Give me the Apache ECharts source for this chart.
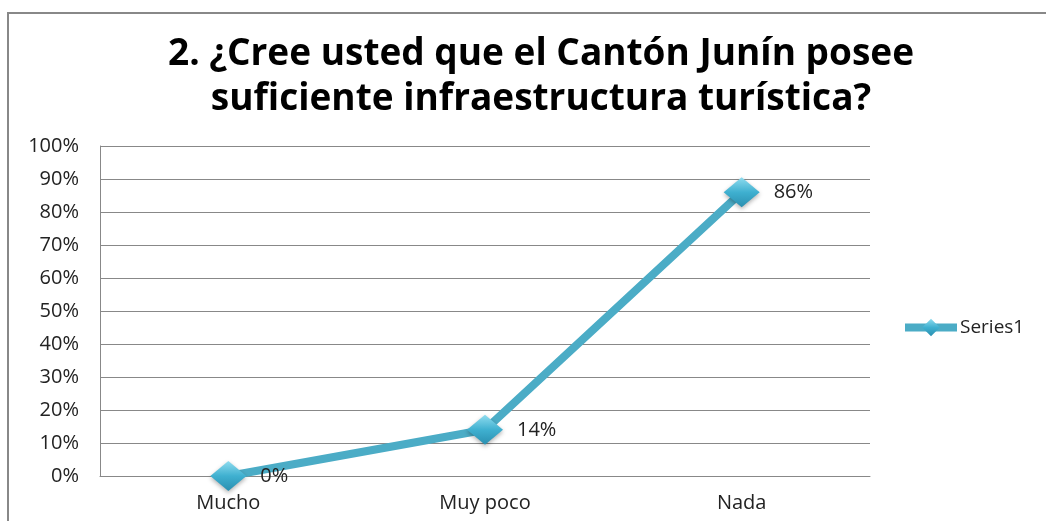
<!DOCTYPE html>
<html><head><meta charset="utf-8">
<script src="https://cdn.jsdelivr.net/npm/echarts@6/dist/echarts.min.js"></script>
<style>html,body{margin:0;padding:0;background:#fff}#c{width:1046px;height:521px}</style>
</head><body><div id="c"></div>
<script>
const categories = ['Mucho', 'Muy poco', 'Nada'];
const values = [0, 14, 86];
const seriesName = 'Series1';
const titleText = '2. ¿Cree usted que el Cantón Junín posee\nsuficiente infraestructura turística?';

const chart = echarts.init(document.getElementById('c'));
const fontFam = '"Open Sans", "Noto Sans", sans-serif';
const markerColor = new echarts.graphic.LinearGradient(0, 0, 0, 1, [
  {offset: 0, color: '#8fdcef'}, {offset: 0.5, color: '#3fb0d0'}, {offset: 1, color: '#2a8fb0'}
]);
chart.setOption({
  animation: false,
  graphic: [{type: 'rect', shape: {x: 8, y: 13, width: 1100, height: 600},
    style: {fill: 'none', stroke: '#888', lineWidth: 2}, z: -1}],
  title: {
    text: titleText, left: 536, top: 27, textAlign: 'center',
    textStyle: {fontFamily: fontFam, fontWeight: 'bold', fontSize: 37, lineHeight: 45, color: '#000'}
  },
  legend: {
    data: [{name: seriesName, lineStyle: {width: 8}}], left: 896, top: 313, itemWidth: 52, itemHeight: 22,
    itemGap: 4,
    textStyle: {fontFamily: fontFam, fontSize: 19, color: '#222', padding: [0,0,0,-2]}
  },
  grid: {left: 100, right: 176, top: 146, bottom: 45},
  xAxis: {
    type: 'category', data: categories, boundaryGap: true,
    axisLine: {lineStyle: {color: '#888', width: 1}},
    axisTick: {show: false},
    axisLabel: {fontFamily: fontFam, fontSize: 20, color: '#222', margin: 17}
  },
  yAxis: {
    type: 'value', min: 0, max: 100, interval: 10,
    axisLine: {show: true, lineStyle: {color: '#888'}},
    axisTick: {show: false},
    splitLine: {lineStyle: {color: '#888', width: 1}},
    axisLabel: {formatter: '{value}%', fontFamily: fontFam, fontSize: 20, color: '#222', margin: 21}
  },
  series: [{
    name: seriesName, type: 'line', data: values,
    symbol: 'diamond', symbolSize: [36, 30],
    lineStyle: {color: '#4bacc6', width: 8},
    itemStyle: {color: markerColor, shadowColor: 'rgba(0,0,0,0.3)', shadowBlur: 4, shadowOffsetY: 2},
    label: {show: true, position: 'right', distance: 14, formatter: '{c}%',
      fontFamily: fontFam, fontSize: 20, color: '#222'}
  }]
});
</script></body></html>
